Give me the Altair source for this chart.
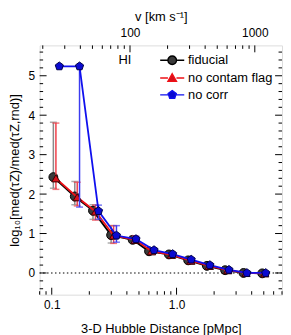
import altair as alt
import pandas as pd

# ---------------- data ----------------
series = ["fiducial", "no contam flag", "no corr"]
H_CONV = 236.0  # km/s per pMpc (top axis conversion)

x_fid = [0.103, 0.153, 0.214, 0.299, 0.445, 0.602, 0.869, 1.24, 1.75, 2.45, 3.44, 4.86]
y_fid = [2.43, 1.94, 1.58, 0.96, 0.84, 0.55, 0.47, 0.32, 0.18, 0.07, 0.00, -0.01]
lo_fid = [2.15, 1.73, 1.36, 0.76, 0.78, 0.50, 0.43, 0.29, 0.15, 0.05, -0.02, -0.03]
hi_fid = [3.82, 2.32, 1.73, 1.20, 0.93, 0.60, 0.51, 0.35, 0.21, 0.09, 0.02, 0.01]

x_red = [0.108, 0.160, 0.224, 0.313, 0.466, 0.630, 0.910, 1.30, 1.83, 2.57, 3.60, 5.09]
y_red = [2.40, 1.92, 1.56, 0.95, 0.84, 0.55, 0.46, 0.31, 0.18, 0.07, 0.00, -0.01]
lo_red = [2.12, 1.70, 1.34, 0.75, 0.77, 0.50, 0.42, 0.28, 0.15, 0.05, -0.02, -0.03]
hi_red = [3.80, 2.30, 1.72, 1.20, 0.94, 0.60, 0.50, 0.34, 0.21, 0.09, 0.02, 0.01]

x_blue = [0.115, 0.167, 0.237, 0.330, 0.473, 0.660, 0.930, 1.31, 1.85, 2.63, 3.66, 5.18]
y_blue = [5.24, 5.24, 1.57, 0.95, 0.86, 0.58, 0.48, 0.34, 0.20, 0.08, 0.00, 0.00]
lo_blue = [5.24, 1.67, 1.36, 0.78, 0.78, 0.54, 0.44, 0.30, 0.17, 0.06, -0.02, -0.02]
hi_blue = [5.24, 5.24, 1.72, 1.20, 0.93, 0.62, 0.52, 0.37, 0.23, 0.10, 0.02, 0.02]

y_major = [0, 1, 2, 3, 4, 5]
y_minor = [-0.4, -0.2, 0.2, 0.4, 0.6, 0.8, 1.2, 1.4, 1.6, 1.8, 2.2, 2.4, 2.6, 2.8,
           3.2, 3.4, 3.6, 3.8, 4.2, 4.4, 4.6, 4.8, 5.2, 5.4, 5.6]
x_major = [0.1, 1.0]
x_minor = [0.08, 0.09, 0.2, 0.3, 0.4, 0.5, 0.6, 0.7, 0.8, 0.9, 2, 3, 4, 5, 6, 7]
v_major = [100, 1000]
v_minor = [20, 30, 40, 50, 60, 70, 80, 90, 200, 300, 400, 500, 600, 700, 800, 900]

# ---------------- style ----------------
W, HGT = 245, 252
FONT = "Liberation Sans"
MAJ, MIN = 7, 3.5

line_cols = ["#000000", "#ee1016", "#1010ee"]
fill_cols = ["#3a3a3a", "#d8101a", "#0a0ad0"]
edge_cols = ["#000000", "#3a0000", "#00004a"]
err_cols = ["#8a8a8a", "#f0404a", "#3c3cf0"]
shapes = ["circle", "triangle-up", "M0,-1L0.951,-0.309L0.588,0.809L-0.588,0.809L-0.951,-0.309Z"]
legend_paths = [
    "M-1.35,0L-0.48,0M0.48,0L1.35,0M0.48,0A0.48,0.48 0 1,1 -0.48,0A0.48,0.48 0 1,1 0.48,0Z",
    "M-1.35,0L-0.48,0M0.48,0L1.35,0M0,-0.48L0.48,0.36L-0.48,0.36Z",
    "M-1.35,0L-0.45,0M0.45,0L1.35,0M0,-0.48L0.456,-0.148L0.282,0.388L-0.282,0.388L-0.456,-0.148Z",
]

xs = alt.Scale(type="log", domain=[0.08, 7], nice=False)
ys = alt.Scale(domain=[-0.55, 5.77], nice=False, zero=False)

x_axis = alt.Axis(values=x_major, format=".1f", ticks=False, tickSize=0, domain=False, grid=False,
                  labelPadding=5, labelFontSize=12, labelFont=FONT, labelColor="black",
                  title="3-D Hubble Distance [pMpc]", titleFontSize=13, titleFont=FONT,
                  titleFontWeight="normal", titleColor="black", titlePadding=12)
y_axis = alt.Axis(values=y_major, format="d", ticks=False, tickSize=0, domain=False, grid=False,
                  labelPadding=5, labelFontSize=12, labelFont=FONT, labelColor="black",
                  title="log₁₀[med(τZ)/med(τZ,rnd)]", titleFontSize=13, titleFont=FONT,
                  titleFontWeight="normal", titleColor="black", titlePadding=7)

layers = []

# zero dotted line
zdf = pd.DataFrame({"z": [0.0]})
layers.append(alt.Chart(zdf).mark_rule(color="black", strokeWidth=1.2, strokeDash=[1.5, 2.5]).encode(
    y=alt.Y("z:Q", scale=ys, axis=y_axis)))

data_sets = [
    (x_fid, y_fid, lo_fid, hi_fid),
    (x_red, y_red, lo_red, hi_red),
    (x_blue, y_blue, lo_blue, hi_blue),
]
for i, (xv, yv, lo, hi) in enumerate(data_sets):
    df = pd.DataFrame({"d": xv, "val": yv, "lo": lo, "hi": hi})
    base = alt.Chart(df)
    X = alt.X("d:Q", scale=xs, axis=x_axis)
    layers.append(base.mark_rule(color=err_cols[i], strokeWidth=1.5).encode(
        x=X, y=alt.Y("lo:Q", scale=ys, axis=y_axis), y2="hi:Q"))
    layers.append(base.mark_tick(color=err_cols[i], orient="horizontal", size=7, thickness=1.5).encode(
        x=X, y=alt.Y("lo:Q", scale=ys, axis=y_axis)))
    layers.append(base.mark_tick(color=err_cols[i], orient="horizontal", size=7, thickness=1.5).encode(
        x=X, y=alt.Y("hi:Q", scale=ys, axis=y_axis)))
    layers.append(base.mark_line(color=line_cols[i], strokeWidth=1.8).encode(
        x=X, y=alt.Y("val:Q", scale=ys, axis=y_axis)))
    layers.append(base.mark_point(filled=True, shape=shapes[i], size=[80, 70, 75][i], fill=fill_cols[i],
                                  stroke=edge_cols[i], strokeWidth=1, opacity=1).encode(
        x=X, y=alt.Y("val:Q", scale=ys, axis=y_axis)))

# HI label
layers.append(alt.Chart(pd.DataFrame({"d": [0.385], "val": [5.4], "t": ["HI"]})).mark_text(
    font=FONT, fontSize=13, color="black").encode(
    x=alt.X("d:Q", scale=xs, axis=x_axis), y=alt.Y("val:Q", scale=ys, axis=y_axis), text="t:N"))

# legend layer (no marks drawn, legend only)
leg_common = dict(title=None, orient="none", legendX=124, legendY=5, labelFontSize=13, labelFont=FONT,
                  labelColor="black", symbolStrokeWidth=1.4, rowPadding=0, labelOffset=6, padding=0,
                  symbolSize=324)
ldf = pd.DataFrame({"series": series, "d": [1.0, 1.0, 1.0], "val": [0.0, 0.0, 0.0]})
layers.append(alt.Chart(ldf).transform_filter("false").mark_point(filled=True, size=324, opacity=1, strokeWidth=1.4).encode(
    x=alt.X("d:Q", scale=xs, axis=x_axis), y=alt.Y("val:Q", scale=ys, axis=y_axis),
    fill=alt.Fill("series:N", scale=alt.Scale(domain=series, range=fill_cols), legend=alt.Legend(**leg_common)),
    stroke=alt.Stroke("series:N", scale=alt.Scale(domain=series, range=line_cols), legend=alt.Legend(**leg_common)),
    shape=alt.Shape("series:N", scale=alt.Scale(domain=series, range=legend_paths), legend=alt.Legend(**leg_common)),
))

# inward ticks: left / right / bottom
for vals, ln in [(y_major, MAJ), (y_minor, MIN)]:
    tdf = pd.DataFrame({"t": vals})
    layers.append(alt.Chart(tdf).mark_rule(color="black", strokeWidth=1).encode(
        y=alt.Y("t:Q", scale=ys, axis=y_axis), x=alt.value(0), x2=alt.value(ln)))
    layers.append(alt.Chart(tdf).mark_rule(color="black", strokeWidth=1).encode(
        y=alt.Y("t:Q", scale=ys, axis=y_axis), x=alt.value(W - ln), x2=alt.value(W)))
for vals, ln in [(x_major, MAJ), (x_minor, MIN)]:
    tdf = pd.DataFrame({"t": vals})
    layers.append(alt.Chart(tdf).mark_rule(color="black", strokeWidth=1).encode(
        x=alt.X("t:Q", scale=xs, axis=x_axis), y=alt.value(HGT - ln), y2=alt.value(HGT)))

main = alt.layer(*layers)

# top axis (velocity)
vs = alt.Scale(type="log", domain=[0.08 * H_CONV, 7 * H_CONV], nice=False)
top_axis = alt.Axis(orient="top", values=v_major, format="d", ticks=False, tickSize=0, domain=False,
                    grid=False, labelPadding=6, labelFontSize=12, labelFont=FONT, labelColor="black",
                    title="v [km s⁻¹]", titleFontSize=13, titleFont=FONT, titleFontWeight="normal",
                    titleColor="black", titlePadding=3)
top_layers = []
for vals, ln in [(v_major, MAJ), (v_minor, MIN)]:
    tdf = pd.DataFrame({"v": vals})
    top_layers.append(alt.Chart(tdf).mark_rule(color="black", strokeWidth=1).encode(
        x=alt.X("v:Q", scale=vs, axis=top_axis), y=alt.value(0), y2=alt.value(ln)))
top = alt.layer(*top_layers)

chart = alt.layer(main, top).resolve_scale(x="independent").properties(
    width=W, height=HGT, padding={"left": 0, "top": 1, "right": 0, "bottom": 0}
).configure_view(stroke="black", strokeWidth=1.2).configure(background="white")

chart.save("out.html", embed_options={"renderer": "svg", "actions": False})
